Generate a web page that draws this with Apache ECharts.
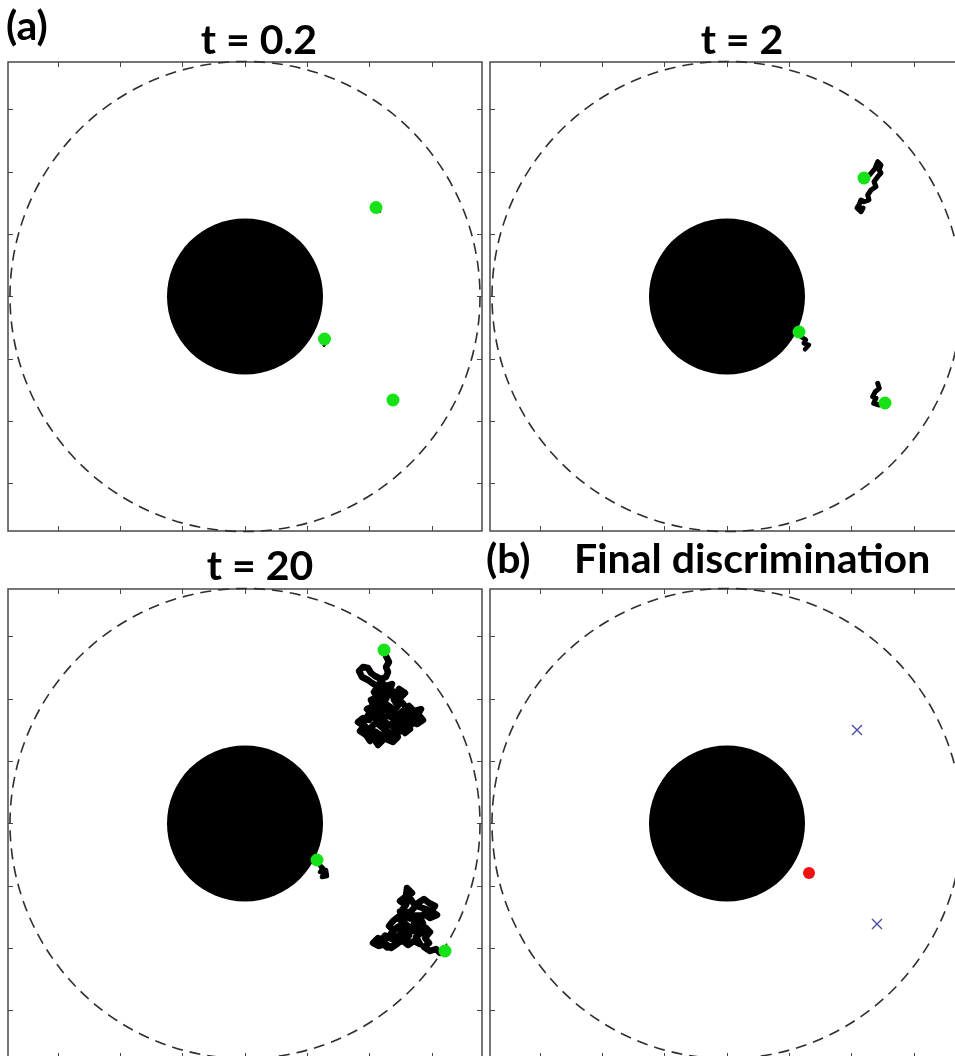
<!DOCTYPE html>
<html>
<head>
<meta charset="utf-8">
<script src="https://cdn.jsdelivr.net/npm/echarts@6/dist/echarts.min.js"></script>
<style>
html,body{margin:0;padding:0;background:#fff;overflow:hidden;}
#chart{width:970px;height:1060px;}
</style>
</head>
<body>
<div id="chart"></div>
<script>
// ---- data (chart units: no labelled scale in the original) ----
const innerRadius = 78;      // absorbing black disk
const outerRadius = 235;     // dashed outer boundary
const tickValues = [-187, -124.6, -62.3, 0, 62.3, 124.6, 187];
const panelTitles = ['t = 0.2', 't = 2', 't = 20', 'Final discrimination'];
const panelLetters = ['(a)', '(b)'];

// panel 1: t = 0.2
const walkersT1 = [[131, 89], [79.5, -42.5], [148, -103.5]];
const traceT1a = [[135, 85], [134, 86.5], [131, 89]];
const traceT1b = [[79, -49], [80.5, -46.5], [79.5, -42.5]];

// panel 2: t = 2
const walkersT2 = [[137, 118.5], [72, -35.5], [158, -106.5]];
const traceT2a = [[136, 88.5], [134, 84.8], [130, 88.5], [132, 91.5], [134, 96.5], [137, 94.8], [142, 96.5], [140.7, 101.5], [144, 106.5], [149, 109.8], [147, 114.8], [150.7, 119.8], [154, 123.5], [152, 126.5], [154, 131.5], [150.7, 134.8], [148, 128], [143, 122], [137, 118.5]];
const traceT2b = [[78, -52.8], [82, -48.5], [80.7, -50.2], [76.7, -46.8], [79, -43.5], [74, -40.2], [72, -35.5]];
const traceT2c = [[150.7, -86.8], [152.3, -91.8], [148.3, -95.2], [145.7, -100.2], [149, -101.8], [146.7, -106.8], [152.3, -108.5], [157.3, -106.8], [158, -106.5]];

// panel 3: t = 20
const walkersT3 = [[139, 173.5], [72, -36.5], [200, -127.5]];
const traceT3a = [[136, 118], [130, 112], [136, 104], [142, 100], [150, 96], [160, 95], [168, 100], [175, 106], [170, 108], [162, 97], [155, 92], [148, 88], [142, 92], [136, 88], [130, 92], [124, 92], [118, 100], [123, 108], [128, 120], [134, 126], [130, 133], [135, 136], [140, 132], [146, 128], [152, 126], [158, 120], [165, 110], [171, 104], [168, 106], [163, 108], [158, 106], [153, 100], [146, 98], [150, 104], [143, 108], [146, 116], [140, 120], [131, 118], [137, 112], [128, 108], [132, 102], [125, 95], [128, 86], [133, 78.5], [138, 83.5], [130, 86.5], [125, 82.5], [121, 88.5], [115, 92.5], [119, 97.5], [113, 101.5], [118, 105.5], [124, 103.5], [127, 109.5], [122, 114.5], [129, 117.5], [126, 123.5], [132, 126.5], [129, 131.5], [136, 129.5], [141, 124.5], [135, 119.5], [141, 114.5], [134, 110.5], [140, 105.5], [133, 99.5], [139, 94.5], [145, 90.5], [141, 84.5], [148, 81.5], [153, 86.5], [149, 92.5], [156, 95.5], [160, 90.5], [165, 94.5], [159, 99.5], [166, 103.5], [172, 99.5], [178, 103.5], [173, 109.5], [176, 114.5], [169, 112.5], [164, 117.5], [159, 113.5], [153, 108.5], [148, 112.5], [153, 117.5], [149, 123.5], [156, 126.5], [160, 130.5], [154, 134.5], [151, 129.5], [145, 134.5], [147, 139.5], [141, 137.5], [136, 141.5], [132, 137.5], [127, 140.5], [123, 143.5], [117, 146.5], [114, 152.5], [118, 156.5], [123, 155.5], [126, 150.5], [130, 147.5], [136, 144.5], [141, 146.5], [143, 151.5], [141, 156.5], [144, 161.5], [141, 167.5], [139, 173.5]];
const traceT3b = [[74, -40.5], [78, -44.5], [75, -48.5], [81, -46.5], [82, -52.5], [77, -53.5], [79, -49], [72, -36.5]];
const traceT3c = [[176, -96], [178, -100], [172, -100], [166, -106], [158, -104], [150, -122], [142, -124], [136, -118], [140, -112], [148, -116], [154, -118], [160, -118], [164, -112], [158, -110], [152, -114], [146, -110], [152, -104], [160, -100], [155, -88], [160, -92], [165, -95], [170, -92], [178, -92], [182, -86], [176, -84], [170, -82], [166, -76], [160, -80], [162, -64.5], [167, -69.5], [160, -73.5], [155, -77.5], [161, -81.5], [157, -86.5], [164, -89.5], [169, -84.5], [173, -79.5], [179, -75.5], [184, -79.5], [190, -82.5], [186, -87.5], [192, -91.5], [185, -94.5], [179, -90.5], [174, -94.5], [169, -99.5], [174, -104.5], [168, -107.5], [163, -102.5], [157, -98.5], [153, -93.5], [148, -97.5], [144, -102.5], [149, -107.5], [144, -112.5], [139, -116.5], [133, -114.5], [128, -119.5], [134, -122.5], [141, -120.5], [146, -124.5], [152, -120.5], [157, -116.5], [163, -121.5], [169, -117.5], [175, -120.5], [171, -113.5], [176, -109.5], [181, -104.5], [185, -108.5], [180, -114.5], [184, -119.5], [179, -123.5], [185, -127.5], [191, -125.5], [195, -129.5], [200, -127.5]];

// panel 4: final discrimination
const detectedTarget = [[82, -49.5]];
const rejectedTargets = [[130, 93.5], [150, -100.5]];

// ---- layout ----
const grids = [
  {left: 8, top: 62, width: 474, height: 469},
  {left: 490, top: 62, width: 474, height: 469},
  {left: 8, top: 589, width: 474, height: 469},
  {left: 490, top: 589, width: 474, height: 469}
];
const frameColor = '#484848';

const xAxes = [], yAxes = [];
grids.forEach((g, i) => {
  ['bottom', 'top'].forEach(pos => xAxes.push({
    type: 'value', gridIndex: i, position: pos, min: -237, max: 237,
    axisLine: {show: false, onZero: false}, splitLine: {show: false}, axisLabel: {show: false},
    axisTick: {show: true, inside: true, length: 5, customValues: tickValues, lineStyle: {color: frameColor, width: 1}}
  }));
  ['left', 'right'].forEach(pos => yAxes.push({
    type: 'value', gridIndex: i, position: pos, min: -234.5, max: 234.5,
    axisLine: {show: false, onZero: false}, splitLine: {show: false}, axisLabel: {show: false},
    axisTick: {show: true, inside: true, length: 5, customValues: tickValues, lineStyle: {color: frameColor, width: 1}}
  }));
});

const series = [];
function ax(i) { return {xAxisIndex: 2 * i, yAxisIndex: 2 * i}; }

grids.forEach((g, i) => {
  series.push(Object.assign({
    type: 'custom', z: 1, silent: true, clip: false,
    data: [[0, 0, innerRadius]],
    renderItem: function (params, api) {
      const c = api.coord([api.value(0), api.value(1)]);
      const r = api.size([api.value(2), 0])[0];
      return {type: 'circle', shape: {cx: c[0], cy: c[1], r: r}, style: {fill: '#000'}};
    }
  }, ax(i)));
  series.push(Object.assign({
    type: 'custom', z: 2, silent: true, clip: false,
    data: [[0, 0, outerRadius]],
    renderItem: function (params, api) {
      const c = api.coord([api.value(0), api.value(1)]);
      const r = api.size([api.value(2), 0])[0];
      return {type: 'circle', shape: {cx: c[0], cy: c[1], r: r},
        style: {fill: 'none', stroke: '#2e2e2e', lineWidth: 1.6, lineDash: [11, 7]}};
    }
  }, ax(i)));
});

function trace(i, pts, w) {
  series.push(Object.assign({
    type: 'line', data: pts, showSymbol: false, symbol: 'none', z: 3, silent: true,
    lineStyle: {color: '#000', width: w, join: 'round', cap: 'round', opacity: 1}, animation: false
  }, ax(i)));
}
function walkers(i, pts) {
  series.push(Object.assign({
    type: 'scatter', data: pts, symbol: 'circle', symbolSize: 13, z: 5, silent: true,
    itemStyle: {color: '#16e316', opacity: 1}
  }, ax(i)));
}

trace(0, traceT1a, 2.5); trace(0, traceT1b, 3);
walkers(0, walkersT1);

trace(1, traceT2a, 5); trace(1, traceT2b, 4.5); trace(1, traceT2c, 5);
walkers(1, walkersT2);

trace(2, traceT3a, 6.5); trace(2, traceT3b, 4.5); trace(2, traceT3c, 6.5);
walkers(2, walkersT3);

series.push(Object.assign({
  type: 'scatter', data: detectedTarget, symbol: 'circle', symbolSize: 12, z: 5,
  itemStyle: {color: '#f01010', opacity: 1}
}, ax(3)));
series.push(Object.assign({
  type: 'scatter', data: rejectedTargets, symbol: 'path://M0,0L10,10M10,0L0,10', symbolSize: 10, z: 5,
  itemStyle: {color: 'none', borderColor: '#4a4aa5', borderWidth: 1.4, opacity: 1}
}, ax(3)));

const tStyle = {fontFamily: 'Lato', fontWeight: 'bold', fontSize: 41, color: '#000'};
const option = {
  backgroundColor: '#fff',
  animation: false,
  title: [
    {text: panelLetters[0], left: 6, top: 6, padding: 0, textStyle: tStyle},
    {text: panelTitles[0], left: 259, top: 20, padding: 0, textAlign: 'center', textStyle: tStyle},
    {text: panelTitles[1], left: 742, top: 20, padding: 0, textAlign: 'center', textStyle: tStyle},
    {text: panelTitles[2], left: 260, top: 546, padding: 0, textAlign: 'center', textStyle: tStyle},
    {text: panelLetters[1], left: 486, top: 539, padding: 0, textStyle: tStyle},
    {text: panelTitles[3], left: 574, top: 539, padding: 0, textStyle: tStyle}
  ],
  grid: grids.map(g => Object.assign({show: true, borderColor: frameColor, borderWidth: 1.5, backgroundColor: '#fff'}, g)),
  xAxis: xAxes,
  yAxis: yAxes,
  series: series
};

const chart = echarts.init(document.getElementById('chart'), null, {renderer: 'canvas'});
chart.setOption(option);
</script>
</body>
</html>
